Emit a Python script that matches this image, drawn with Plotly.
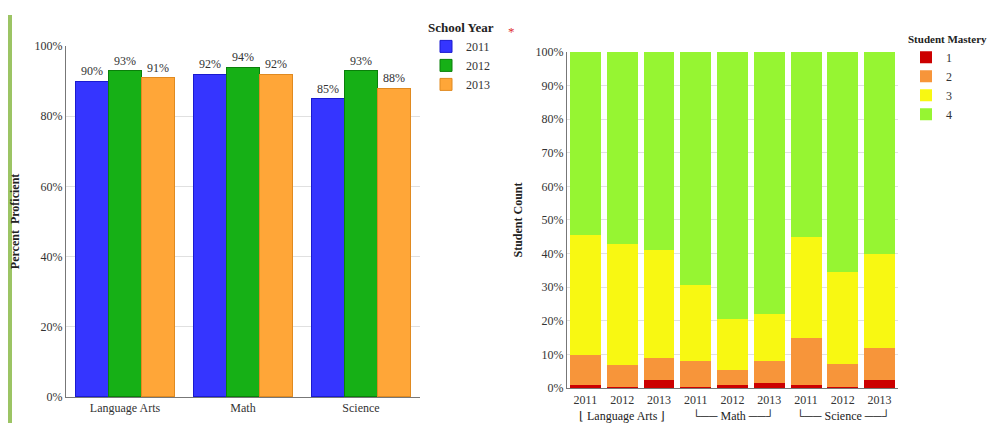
import plotly.graph_objects as go

# ---- Left chart data ----
subjects = ["Language Arts", "Math", "Science"]
years = ["2011", "2012", "2013"]
prof_2011 = [90, 92, 85]
prof_2012 = [93, 94, 93]
prof_2013 = [91, 92, 88]
left_ticks = [0, 20, 40, 60, 80, 100]

# ---- Right chart data ----
bar_years = ["2011", "2012", "2013", "2011", "2012", "2013", "2011", "2012", "2013"]
group_labels = ["⌊ Language Arts ⌋", "└── Math ──┘", "└── Science ──┘"]
mastery_levels = ["1", "2", "3", "4"]
m1 = [1.0, 0.5, 2.4, 0.4, 1.0, 1.7, 1.1, 0.5, 2.4]
m2 = [9.0, 6.5, 6.6, 7.8, 4.5, 6.4, 13.7, 6.7, 9.6]
m3 = [35.5, 36.0, 32.0, 22.6, 15.0, 13.9, 30.0, 27.2, 27.9]
m4 = [54.5, 57.0, 59.0, 69.2, 79.5, 78.0, 55.2, 65.6, 60.1]
right_ticks = [0, 10, 20, 30, 40, 50, 60, 70, 80, 90, 100]

SERIF = "Liberation Serif"
W, H = 997, 423

fig = go.Figure()

# grouped bars placed by numeric position (group index + slot offset)
subj_idx = list(range(len(subjects)))
slot_w = 0.28
year_colors = ["#3535ff", "#16b016", "#ffa638"]
year_lines = ["#1a1ad0", "#0a800a", "#e08a20"]
for k, (yr, vals, c, lc) in enumerate(zip(years, [prof_2011, prof_2012, prof_2013], year_colors, year_lines)):
    fig.add_trace(go.Bar(
        x=[i + (k - 1) * slot_w for i in subj_idx], y=vals, width=slot_w, name=yr,
        marker=dict(color=c, line=dict(color=lc, width=1)),
        text=[f"{v}%" for v in vals], textposition="outside", cliponaxis=False,
        textfont=dict(family=SERIF, size=12, color="#333"),
        xaxis="x", yaxis="y", legend="legend",
    ))

mast_colors = ["#cc0000", "#f7953a", "#f8f812", "#96f532"]
idx = list(range(len(bar_years)))
for lvl, vals, c in zip(mastery_levels, [m1, m2, m3, m4], mast_colors):
    fig.add_trace(go.Bar(
        x=idx, y=vals, name=lvl, marker=dict(color=c, line=dict(width=0)),
        xaxis="x2", yaxis="y2", legend="legend2",
    ))

for g, lab in enumerate(group_labels):
    fig.add_annotation(x=idx[g * 3 + 1], y=1 - 415 / H, xref="x2", yref="paper",
                       text=lab, showarrow=False, yanchor="middle",
                       font=dict(family=SERIF, size=12, color="#222"))

# red asterisk
fig.add_annotation(x=503 / W, y=1 - 7 / H, xref="paper", yref="paper", text="*",
                   showarrow=False, font=dict(family=SERIF, size=13, color="#e03030"))

# left green stripe
fig.add_shape(type="rect", xref="paper", yref="paper", x0=0, x1=4 / W, y0=0, y1=1,
              fillcolor="#9cc464", line=dict(width=0), layer="below")

axis_font = dict(family=SERIF, size=12, color="#333")
fig.update_layout(
    width=W, height=H, margin=dict(l=0, r=0, t=0, b=0),
    paper_bgcolor="white", plot_bgcolor="white",
    barmode="stack", bargap=0.16,
    showlegend=True,
    xaxis=dict(domain=[58 / W, 412 / W], range=[-0.5, 2.5], tickvals=subj_idx, ticktext=subjects,
               tickfont=axis_font, showline=True, linecolor="#777", ticks="",
               showgrid=False, zeroline=False, anchor="y"),
    yaxis=dict(domain=[(H - 395) / H, (H - 32) / H], range=[0, 100], tickvals=left_ticks,
               ticktext=[f"{t}%" for t in left_ticks], tickfont=axis_font,
               showline=True, linecolor="#777", gridcolor="#e0e0e0", zeroline=False,
               title=dict(text="<b>Percent  Proficient</b>", font=dict(family=SERIF, size=12, color="#222"),
                          standoff=14), anchor="x"),
    xaxis2=dict(domain=[559 / W, 890 / W], range=[-0.5, 8.5], tickvals=idx, ticktext=bar_years,
                tickfont=axis_font, showline=True, linecolor="#777", ticks="",
                showgrid=False, zeroline=False, anchor="y2"),
    yaxis2=dict(domain=[(H - 386) / H, (H - 38) / H], range=[0, 100], tickvals=right_ticks,
                ticktext=[f"{t}%" for t in right_ticks], tickfont=axis_font,
                showline=True, linecolor="#777", gridcolor="#e0e0e0", zeroline=False,
                title=dict(text="<b>Student Count</b>", font=dict(family=SERIF, size=12, color="#222"),
                           standoff=10), anchor="x2"),
    legend=dict(x=418 / W, y=1.0, xanchor="left", yanchor="top",
                title=dict(text="<b>School Year</b>", font=dict(family=SERIF, size=13, color="#222")),
                font=dict(family=SERIF, size=12, color="#333"), tracegroupgap=0,
                traceorder="normal", itemwidth=30, bgcolor="rgba(0,0,0,0)"),
    legend2=dict(x=898 / W, y=1 - 14 / H, xanchor="left", yanchor="top",
                 title=dict(text="<b>Student Mastery</b>", font=dict(family=SERIF, size=11, color="#222")),
                 font=dict(family=SERIF, size=12, color="#333"), tracegroupgap=0,
                 traceorder="normal", itemwidth=30, bgcolor="rgba(0,0,0,0)"),
)

fig.write_html("out.html")
